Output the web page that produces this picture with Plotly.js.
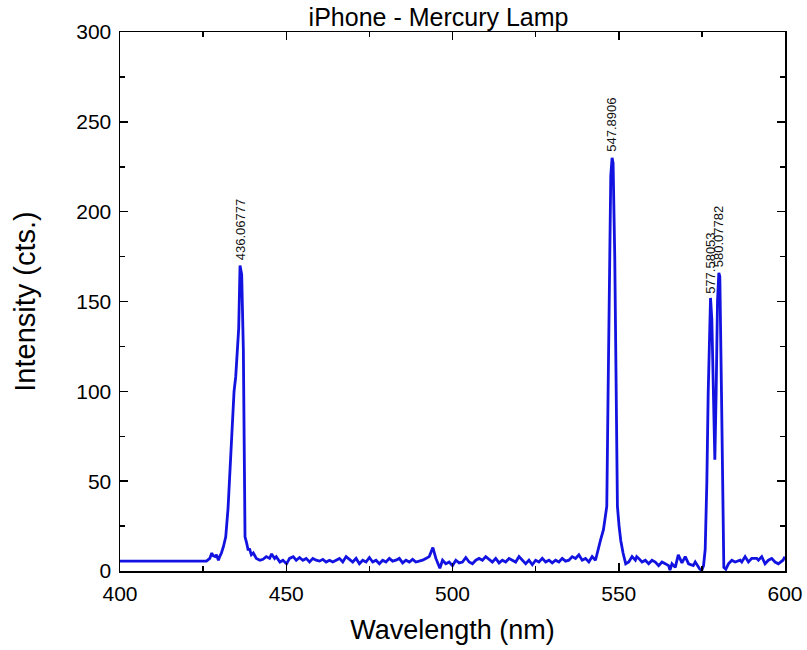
<!DOCTYPE html>
<html>
<head>
<meta charset="utf-8">
<script src="https://cdn.plot.ly/plotly-3.0.1.min.js"></script>
<style>html,body{margin:0;padding:0;background:#fff;}#chart{width:807px;height:650px;}</style>
</head>
<body>
<div id="chart"></div>
<script>
// Spectrum samples: wavelength (nm) and intensity (cts.)
const wavelength = [
  400, 426, 427, 427.6, 428, 428.6, 429, 429.6, 430, 430.5, 431.1, 431.8, 432.5, 433.3, 433.8, 434.3, 434.8, 435.3, 435.7, 436.1, 436.6, 437.1, 437.4, 437.6, 438.1, 438.5, 439, 439.5, 440.1, 441, 442.1, 443, 444, 445, 445.6, 446.5, 447, 448.1, 449, 450.1,
  451, 452.1, 453, 454, 455, 456, 457, 458, 459, 460, 461, 462, 463, 464, 465, 466, 467, 468, 469, 470, 471, 472, 473, 474, 475, 476, 477, 478, 479, 480,
  481, 482, 483, 484, 485, 486, 487, 488, 489, 490, 491, 492, 493, 494.1, 495, 496.2, 497, 498, 499, 500, 501, 502, 503, 504, 505, 506, 507, 508, 509, 510,
  511, 512, 513, 514, 515, 516, 517, 518, 519, 520, 521, 522, 523, 524, 525, 526, 527, 528, 529, 530, 531, 532, 533, 534, 535, 536, 537, 538, 539, 540,
  541, 542, 543, 543.9, 544.5, 545.4, 546, 546.4, 546.8, 547.2, 547.6, 548.0, 548.3, 548.8, 549.2, 549.6, 550.1, 550.6, 551.3, 552.1, 553, 554, 555, 555.4, 556, 557, 558, 559, 560,
  561, 562, 563, 564, 565, 565.4, 566, 567, 567.9, 569, 570, 571, 572.4, 573, 574.4, 575, 575.5, 576, 576.5, 576.9, 577.3, 577.6, 578, 578.4, 578.9, 579.3, 579.7, 580.1, 580.4, 580.9, 581.3, 581.6, 582.2,
  583, 584, 585, 586.5, 587, 588, 589, 590, 591.5, 592, 593, 594, 595, 596, 597, 598, 599.4, 600
];
const intensity = [
  5.5, 5.5, 7, 10, 8.5, 8, 9, 6, 8, 10, 13.5, 19, 35, 67, 88, 100, 108, 122, 135, 170, 165, 123, 60, 19, 15.5, 12, 12, 9, 10, 7, 6, 6.5, 8, 7, 9.5, 7, 8, 5, 6, 4,
  7, 8, 6, 7.5, 6, 7, 5, 7, 6, 5.5, 6.5, 5, 6, 5, 6, 7, 5, 8, 6.5, 5, 7, 4, 6, 5, 7.5, 5, 6, 4, 6, 5,
  7, 5.5, 6, 7, 4.5, 6, 5, 6.5, 5, 5.5, 6, 7, 8, 13, 7, 1.5, 6, 4, 5, 3, 6, 4.5, 5, 7.5, 5, 4, 6, 7, 6, 8,
  6.5, 5, 7, 4.5, 6, 5, 7, 6, 5, 8, 6, 4, 6, 3.5, 6, 5, 7, 5, 6, 4.5, 6, 5, 7, 5.5, 6, 8, 7, 9, 6, 7,
  5, 8, 6, 13.5, 17, 23, 30, 36, 100, 175, 220, 230, 227, 175, 100, 36, 25, 17, 10, 4, 5, 8, 6, 8, 7, 5, 6, 4, 6,
  5, 3, 5, 4, 3, 0.5, 4, 2, 9, 4.5, 8, 4, 3, 5, 1, 0.5, 3, 12, 50, 99, 140, 152, 140, 100, 62, 100, 150, 166, 164, 99, 30, 2, 1,
  4, 6, 5, 6, 5, 8, 5, 7, 7, 6, 8, 4, 6, 7, 5, 4, 6, 8
];
// Peak labels
const peakX = [436.06777, 547.8906, 577.58053, 580.07782];
const peakY = [171, 231, 152, 167];
const peakLabels = ['436.06777', '547.8906', '577.58053', '580.07782'];

const FONT = 'Liberation Sans, Arial, sans-serif';

const trace = {
  x: wavelength, y: intensity, type: 'scatter', mode: 'lines',
  line: {color: 'rgb(18,18,225)', width: 2.8},
  hoverinfo: 'skip'
};

const annotations = peakX.map((px, i) => ({
  x: px, y: peakY[i], xref: 'x', yref: 'y',
  text: peakLabels[i], showarrow: false, textangle: -90,
  xanchor: 'center', yanchor: 'bottom', yshift: 2,
  font: {family: FONT, size: 13, color: '#111'}
}));

const axisFont = {family: FONT, size: 21, color: '#000'};
const layout = {
  width: 807, height: 650,
  margin: {l: 120, r: 22, t: 32, b: 79},
  paper_bgcolor: '#fff', plot_bgcolor: '#fff',
  showlegend: false,
  title: {text: 'iPhone - Mercury Lamp', x: 0.5434, xanchor: 'center', y: 0.987, yanchor: 'top',
          font: {family: FONT, size: 25, color: '#000'}},
  xaxis: {
    range: [400, 600], tickmode: 'linear', tick0: 400, dtick: 50,
    ticks: 'inside', ticklen: 8, tickwidth: 1.5, tickcolor: '#000',
    minor: {dtick: 25, ticks: 'inside', ticklen: 5, tickwidth: 1.5, tickcolor: '#000', showgrid: false},
    showline: true, linecolor: '#000', linewidth: 1.5, mirror: 'ticks',
    showgrid: false, zeroline: false, tickfont: axisFont, ticklabelstandoff: 3,
    title: {text: 'Wavelength (nm)', font: {family: FONT, size: 27, color: '#000'}, standoff: 16}
  },
  yaxis: {
    range: [0, 300], tickmode: 'linear', tick0: 0, dtick: 50,
    ticks: 'inside', ticklen: 8, tickwidth: 1.5, tickcolor: '#000',
    minor: {dtick: 25, ticks: 'inside', ticklen: 5, tickwidth: 1.5, tickcolor: '#000', showgrid: false},
    showline: true, linecolor: '#000', linewidth: 1.5, mirror: 'ticks',
    showgrid: false, zeroline: false, tickfont: axisFont, ticklabelstandoff: 3,
    title: {text: 'Intensity (cts.)', font: {family: FONT, size: 29, color: '#000'}, standoff: 32}
  },
  annotations: annotations
};

Plotly.newPlot('chart', [trace], layout, {displayModeBar: false, staticPlot: true});
</script>
</body>
</html>
